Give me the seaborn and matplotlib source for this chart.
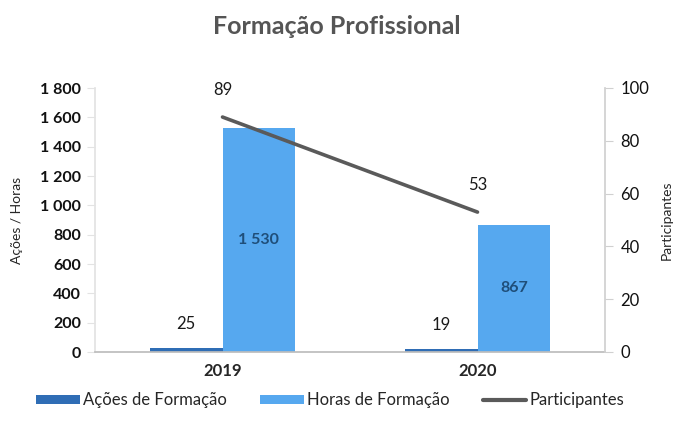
import matplotlib
matplotlib.use("Agg")
import matplotlib.pyplot as plt
from matplotlib.ticker import FuncFormatter, MultipleLocator
from matplotlib.patches import Patch
from matplotlib.lines import Line2D
import seaborn as sns
import pandas as pd

# Data
anos = ["2019", "2020"]
acoes = [25, 19]
horas = [1530, 867]
participantes = [89, 53]

series_names = ["Ações de Formação", "Horas de Formação"]
cor_acoes = "#2f6db5"
cor_horas = "#56a8ef"
cor_linha = "#5a5a5a"

sns.set_theme(style="white")
plt.rcParams["font.family"] = ["Lato", "DejaVu Sans"]

df_barras = pd.DataFrame({
    "ano": anos * 2,
    "serie": [series_names[0]] * len(anos) + [series_names[1]] * len(anos),
    "valor": acoes + horas,
})
df_linha = pd.DataFrame({"ano": anos, "participantes": participantes})


def fmt_milhar(v, pos=None):
    return f"{int(round(v)):,}".replace(",", " ")


fig = plt.figure(figsize=(6.74, 4.21), dpi=100)
ax = fig.add_axes([95 / 674, 1 - 352 / 421, 510 / 674, 264 / 421])

sns.barplot(data=df_barras, x="ano", y="valor", hue="serie", order=anos,
            hue_order=series_names, palette=[cor_acoes, cor_horas],
            width=0.57, gap=0, saturation=1, errorbar=None, ax=ax,
            legend=False, linewidth=0)
ax.set_ylim(0, 1800)
ax.yaxis.set_major_locator(MultipleLocator(200))
ax.yaxis.set_major_formatter(FuncFormatter(fmt_milhar))
ax.set_xlabel("")
ax.set_ylabel("Ações / Horas", fontsize=10, labelpad=12)

# value labels
ax.bar_label(ax.containers[0], labels=[str(v) for v in acoes],
             padding=12, fontsize=12, color="#1a1a1a")
ax.bar_label(ax.containers[1], labels=[fmt_milhar(v) for v in horas],
             label_type="center", fontsize=11.5, color="#1f4e79",
             fontweight="bold")

ax2 = ax.twinx()
sns.pointplot(data=df_linha, x="ano", y="participantes", order=anos,
              color=cor_linha, markers="", linestyles="-", errorbar=None,
              ax=ax2)
for ln in ax2.lines:
    ln.set_linewidth(2.6)
ax2.set_ylim(0, 100)
ax2.yaxis.set_major_locator(MultipleLocator(20))
ax2.set_ylabel("Participantes", fontsize=10, labelpad=8)
ax2.set_xlim(-0.5, 1.5)
ax.set_xlim(-0.5, 1.5)

for i, v in enumerate(participantes):
    ax2.annotate(str(v), (i, v), xytext=(0, 14), textcoords="offset points",
                 ha="center", va="bottom", fontsize=12, color="#1a1a1a")

# axes styling
spine_col = "#d0d0d0"
for a in (ax, ax2):
    a.spines["top"].set_visible(False)
ax.spines["right"].set_visible(False)
ax.spines["left"].set_color("#e3e3e3")
ax.spines["bottom"].set_color("#bdbdbd")
ax2.spines["left"].set_visible(False)
ax2.spines["bottom"].set_visible(False)
ax2.spines["right"].set_color(spine_col)

ax.tick_params(axis="y", which="major", length=6, width=0.8, color="#e3e3e3",
               direction="out", labelsize=11.5, labelcolor="#111111", pad=4)
for t in ax.get_yticklabels():
    t.set_fontweight("bold")
ax.tick_params(axis="x", length=0, labelsize=12, pad=8)
for t in ax.get_xticklabels():
    t.set_fontweight("bold")
ax2.tick_params(axis="y", length=6, width=0.8, color=spine_col,
                direction="out", labelsize=12, labelcolor="#111111", pad=5)

fig.suptitle("Formação Profissional", x=0.5, y=0.965, fontsize=18,
             fontweight="bold", color="#555555")

handles = [
    Patch(facecolor=cor_acoes, edgecolor="none"),
    Patch(facecolor=cor_horas, edgecolor="none"),
    Line2D([0], [0], color=cor_linha, linewidth=3),
]
fig.legend(handles, ["Ações de Formação", "Horas de Formação", "Participantes"],
           loc="lower center", bbox_to_anchor=(0.49, -0.005), ncol=3,
           frameon=False, fontsize=12, handlelength=2.6, handleheight=0.45,
           columnspacing=2.0, handletextpad=0.2)

fig.savefig("out.png", dpi=100)
